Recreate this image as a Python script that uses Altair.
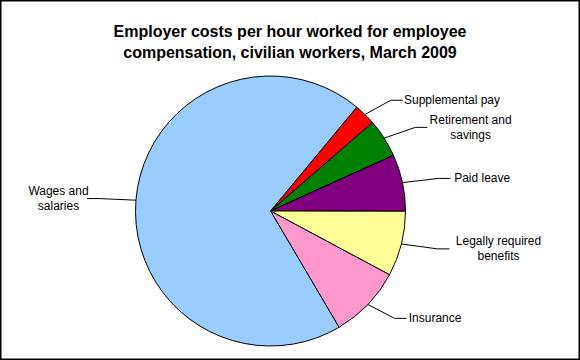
import math
import altair as alt
import pandas as pd

# ---- data ----
categories = ["Supplemental pay", "Retirement and savings", "Paid leave",
              "Legally required benefits", "Insurance", "Wages and salaries"]
labels = ["Supplemental pay", "Retirement and\nsavings", "Paid leave",
          "Legally required\nbenefits", "Insurance", "Wages and\nsalaries"]
shares = [2.6, 4.6, 6.8, 7.8, 8.7, 69.5]
colors = ["#FF0000", "#008000", "#800080", "#FFFF99", "#FF99CC", "#99CCFF"]
title_lines = ["Employer costs per hour worked for employee",
               "compensation, civilian workers, March 2009"]

# ---- layout / style ----
W, H = 580, 360
CX, CY, R = 270.5, 211, 135
RX_ELBOW, RY_ELBOW = 172, 155
LEG = 12
GAP = 2
CHAR_W = 5.9
LINE_H = 15
START = math.radians(39.7)
FONT = "Liberation Sans"

df = pd.DataFrame({
    "idx": list(range(len(categories))),
    "category": categories,
    "label": labels,
    "share": shares,
    "nchar": [max(len(s) for s in l.split("\n")) for l in labels],
    "nlines": [len(l.split("\n")) for l in labels],
})

base = (
    alt.Chart(df)
    .transform_joinaggregate(total="sum(share)")
    .transform_window(cum="sum(share)", sort=[alt.SortField("idx")], frame=[None, 0])
    .transform_calculate(mid=f"{START} + 2*PI*(datum.cum - datum.share/2)/datum.total")
    .transform_calculate(side="sin(datum.mid) >= 0 ? 1 : -1")
    .transform_calculate(ex=f"{CX} + {R}*sin(datum.mid)")
    .transform_calculate(ey=f"{CY} - {R}*cos(datum.mid)")
    .transform_calculate(lx=f"{CX} + {RX_ELBOW}*sin(datum.mid)")
    .transform_calculate(ly=f"{CY} - {RY_ELBOW}*cos(datum.mid)")
    .transform_calculate(tx=f"datum.lx + datum.side*{LEG}")
    .transform_calculate(textx=f"datum.tx + datum.side*({GAP} + datum.nchar*{CHAR_W}/2)")
    .transform_calculate(texty=f"datum.ly - (datum.nlines - 1)*{LINE_H}/2")
)

arc = base.mark_arc(outerRadius=R, stroke="black", strokeWidth=1).encode(
    theta=alt.Theta("share:Q", stack=True,
                    scale=alt.Scale(range=[START, START + 2 * math.pi])),
    color=alt.Color("category:N", scale=alt.Scale(domain=categories, range=colors),
                    legend=None),
    order=alt.Order("idx:Q"),
    x=alt.value(CX),
    y=alt.value(CY),
)

diag = base.mark_rule(color="black", strokeWidth=1).encode(
    x=alt.X("ex:Q", scale=None, axis=None),
    y=alt.Y("ey:Q", scale=None, axis=None),
    x2="lx:Q",
    y2="ly:Q",
)

leg = base.mark_rule(color="black", strokeWidth=1).encode(
    x=alt.X("lx:Q", scale=None, axis=None),
    y=alt.Y("ly:Q", scale=None, axis=None),
    x2="tx:Q",
    y2="ly:Q",
)

text = base.mark_text(font=FONT, fontSize=12, lineBreak="\n", align="center",
                      baseline="middle", color="black", lineHeight=LINE_H).encode(
    x=alt.X("textx:Q", scale=None, axis=None),
    y=alt.Y("texty:Q", scale=None, axis=None),
    text="label:N",
)

chart = (
    alt.layer(arc, diag, leg, text)
    .properties(
        width=W, height=H, padding=0, autosize="none", background="white",
        title=alt.Title(title_lines, fontSize=16, font=FONT, fontWeight="bold",
                        color="black", anchor="middle", offset=-61, lineHeight=21),
    )
    .configure_view(stroke="black", strokeWidth=3)
)

chart.save("out.html", embed_options={"renderer": "svg", "actions": False})
